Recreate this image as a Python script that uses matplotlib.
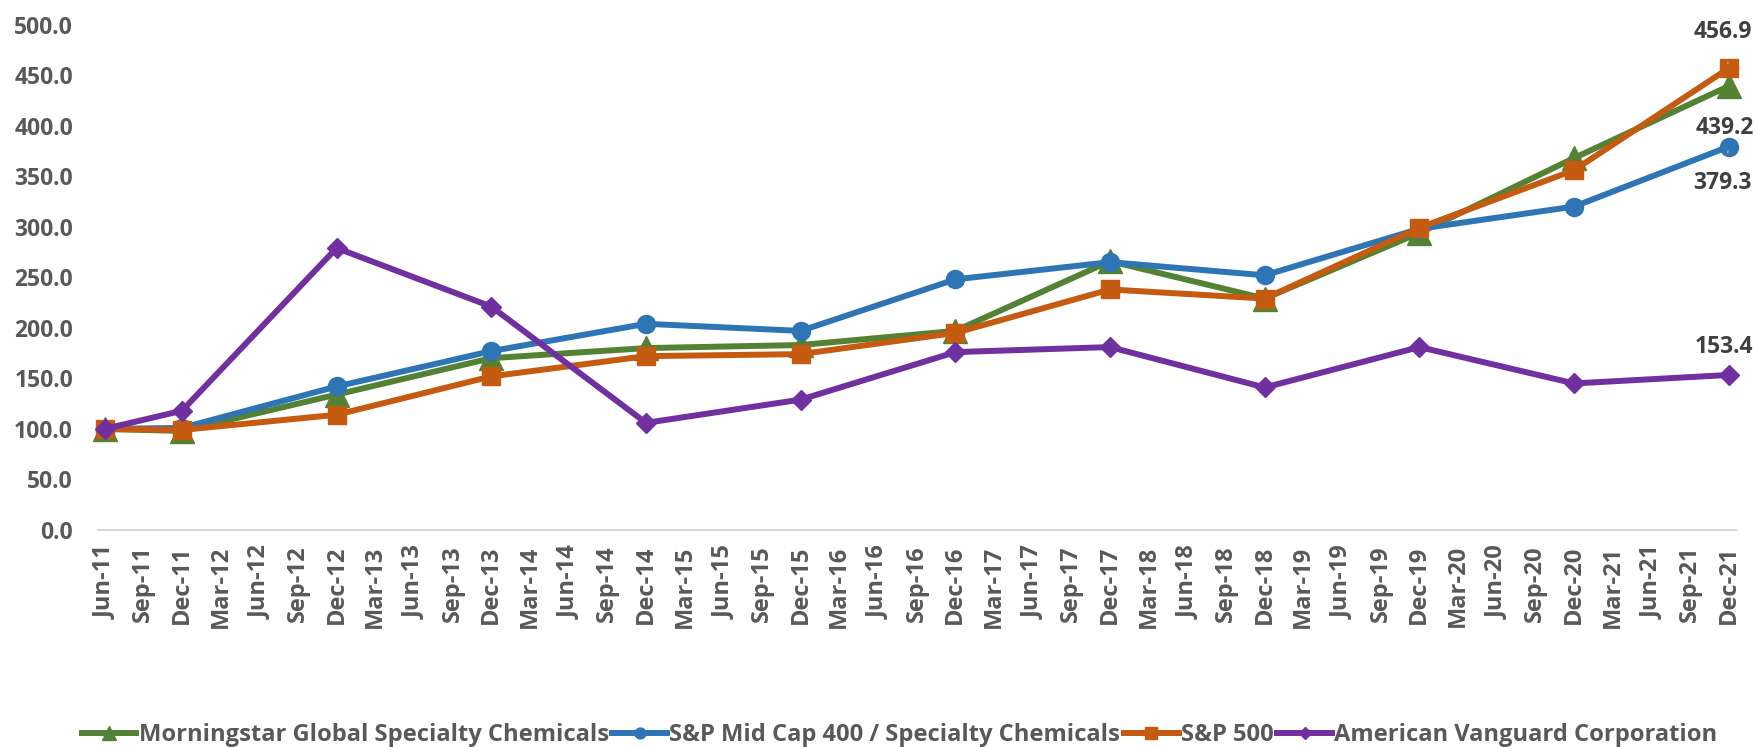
import matplotlib
matplotlib.use("Agg")
import matplotlib.pyplot as plt

# ---- data ----
years = list(range(11, 22))
months = ["Mar", "Jun", "Sep", "Dec"]
tick_labels = [f"{m}-{y}" for y in years for m in months][1:]  # Jun-11 .. Dec-21

point_labels = ["Jun-11", "Dec-11", "Dec-12", "Dec-13", "Dec-14", "Dec-15",
                "Dec-16", "Dec-17", "Dec-18", "Dec-19", "Dec-20", "Dec-21"]

morningstar = [100.0, 98.0, 134.0, 170.0, 180.0, 183.0, 197.0, 266.0, 229.0, 294.0, 368.0, 439.2]
sp_midcap = [100.0, 101.0, 142.0, 177.0, 204.0, 197.0, 248.0, 265.0, 252.0, 298.0, 320.0, 379.3]
sp500 = [100.0, 99.0, 114.0, 152.0, 172.0, 174.0, 195.0, 238.0, 229.0, 299.0, 356.0, 456.9]
avd = [100.0, 118.0, 279.0, 221.0, 106.0, 129.0, 176.0, 181.0, 141.0, 181.0, 145.0, 153.4]

series_names = ["Morningstar Global Specialty Chemicals",
                "S&P Mid Cap 400 / Specialty Chemicals",
                "S&P 500",
                "American Vanguard Corporation"]

y_ticks = [0, 50, 100, 150, 200, 250, 300, 350, 400, 450, 500]

# ---- styling ----
FONT = "Open Sans"
GRAY = "#595959"
colors = ["#548235", "#2E75B6", "#C55A11", "#7030A0"]
markers = ["^", "o", "s", "D"]
msizes = [17, 13, 13.5, 10]

fig = plt.figure(figsize=(17.57, 7.47), dpi=100)
ax = fig.add_axes([0.0558, 0.2905, 0.9325, 0.6765])

xs = [tick_labels.index(p) for p in point_labels]
all_series = [morningstar, sp_midcap, sp500, avd]
for vals, name, c, m, ms in zip(all_series, series_names, colors, markers, msizes):
    ax.plot(xs, vals, color=c, lw=4.3, marker=m, markersize=ms,
            markeredgecolor=c, label=name, clip_on=False, solid_joinstyle="round")

ax.set_xlim(-0.17, len(tick_labels) - 1 + 0.2)
ax.set_ylim(0, 500)
ax.set_yticks(y_ticks)
ax.set_yticklabels([f"{v:.1f}" for v in y_ticks], fontfamily=FONT,
                   fontweight="bold", fontsize=16.5, color=GRAY)
ax.set_xticks(range(len(tick_labels)))
ax.set_xticklabels(tick_labels, rotation=90, fontfamily=FONT,
                   fontweight="bold", fontsize=17, color=GRAY)
ax.tick_params(axis="both", length=0)
ax.tick_params(axis="y", pad=18)
ax.tick_params(axis="x", pad=11)
for s in ["top", "right", "left"]:
    ax.spines[s].set_visible(False)
ax.spines["bottom"].set_color("#D9D9D9")
ax.spines["bottom"].set_linewidth(1.5)

# data labels on last point
last = xs[-1]
lab_kw = dict(textcoords="offset pixels", ha="center", va="center",
              fontfamily=FONT, fontweight="bold", fontsize=16.5, color="#404040",
              annotation_clip=False)
leader = dict(arrowstyle="-", color="#A6A6A6", lw=1, shrinkA=11, shrinkB=3)
ax.annotate(f"{sp500[-1]:.1f}", (last, sp500[-1]), xytext=(-6, 36),
            arrowprops=leader, **lab_kw)
ax.annotate(f"{morningstar[-1]:.1f}", (last, morningstar[-1]), xytext=(-4, -42), **lab_kw)
ax.annotate(f"{sp_midcap[-1]:.1f}", (last, sp_midcap[-1]), xytext=(-6, -36),
            arrowprops=leader, **lab_kw)
ax.annotate(f"{avd[-1]:.1f}", (last, avd[-1]), xytext=(-5, 28), **lab_kw)

leg = fig.legend(loc="center", bbox_to_anchor=(0.512, 0.016), ncol=4, frameon=False,
                 handlelength=2.3, handletextpad=0.1, columnspacing=0.15,
                 prop=dict(family=FONT, size=17.1, weight="bold"),
                 labelcolor=GRAY, markerscale=0.6)

fig.savefig("out.png", dpi=100)
